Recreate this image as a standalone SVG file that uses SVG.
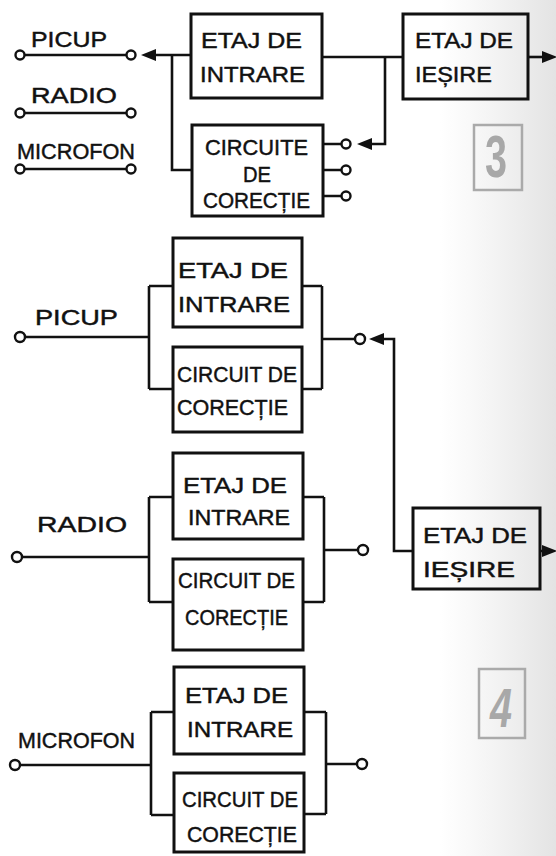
<svg xmlns="http://www.w3.org/2000/svg" width="556" height="856" viewBox="0 0 556 856">
<defs>
<style>
.bx{fill:none;stroke:#111;stroke-width:3}
.ln{fill:none;stroke:#111;stroke-width:2.6}
.pin{fill:#fff;stroke:#111;stroke-width:2.4}
.t{font-family:"Liberation Sans","DejaVu Sans",sans-serif;fill:#111;stroke:#111;stroke-width:0.45}
.lab{font-size:22px}
.bt{font-size:22px}
.num{font-family:"Liberation Sans","DejaVu Sans",sans-serif;font-weight:bold;fill:#a8a8a8}
.frame{fill:none;stroke:#aaa;stroke-width:2.5}
.arr{marker-end:url(#ah)}
</style>
<marker id="ah" markerUnits="userSpaceOnUse" markerWidth="16" markerHeight="12" refX="0" refY="6" orient="auto">
<path d="M0,0 L15,6 L0,12 z" fill="#111"/>
</marker>
<linearGradient id="scan" x1="0" y1="0" x2="1" y2="0">
<stop offset="0" stop-color="#d0d0d0" stop-opacity="0"/>
<stop offset="1" stop-color="#c8c8c8" stop-opacity="0.5"/>
</linearGradient>
</defs>
<rect x="0" y="0" width="556" height="856" fill="#fff"/>
<rect x="440" y="0" width="116" height="856" fill="url(#scan)"/>

<g id="connectors">
<path class="ln arr" d="M191,55 H156"/>
<path class="ln" d="M172,55 V170 H192"/>
<path class="ln" d="M322,57 H403"/>
<path class="ln arr" d="M385,57 V144 H372"/>
<path class="ln" d="M323,144 H341.5 M323,170 H341.5 M323,196 H341.5"/>
<path class="ln arr" d="M528,57 H542"/>
<path class="ln" d="M25,337 H149 M149,286 V389 M149,286 H173 M149,389 H173"/>
<path class="ln" d="M302,286 H322 M302,389 H322 M322,286 V389 M322,339 H355"/>
<path class="ln arr" d="M413,551 H394 V339 H384"/>
<path class="ln" d="M22,557 H149 M149,497 V602 M149,497 H173 M149,602 H173"/>
<path class="ln" d="M303,497 H324 M303,602 H324 M324,497 V602 M324,550 H358"/>
<path class="ln" d="M20,765 H151 M151,712 V815 M151,712 H174 M151,815 H174"/>
<path class="ln" d="M304,712 H326 M304,814 H326 M326,712 V814 M326,764 H357"/>
<path class="ln arr" d="M540,551 H542"/>
</g>

<g id="src-top">
<text class="t lab" x="31" y="47" font-size="21" textLength="76" lengthAdjust="spacingAndGlyphs">PICUP</text>
<path class="ln" d="M24.5,55 H126.5"/>
<circle class="pin" cx="20" cy="55" r="4.5"/>
<circle class="pin" cx="131" cy="55" r="4.5"/>
<text class="t lab" x="31" y="103" textLength="86" lengthAdjust="spacingAndGlyphs">RADIO</text>
<path class="ln" d="M24.5,113 H126.5"/>
<circle class="pin" cx="20" cy="113" r="4.5"/>
<circle class="pin" cx="131" cy="113" r="4.5"/>
<text class="t lab" x="17" y="159" textLength="118" lengthAdjust="spacingAndGlyphs">MICROFON</text>
<path class="ln" d="M24.5,169 H126.5"/>
<circle class="pin" cx="20" cy="169" r="4.5"/>
<circle class="pin" cx="131" cy="169" r="4.5"/>
</g>

<g id="etaj-intrare-top">
<rect class="bx" x="191" y="14" width="131" height="84"/>
<text class="t bt" x="201" y="48" font-size="21" textLength="101" lengthAdjust="spacingAndGlyphs">ETAJ DE</text>
<text class="t bt" x="200" y="82" font-size="21" textLength="105" lengthAdjust="spacingAndGlyphs">INTRARE</text>
</g>

<g id="circuite-top">
<rect class="bx" x="192" y="125" width="131" height="91"/>
<text class="t bt" x="205" y="155" textLength="103" lengthAdjust="spacingAndGlyphs">CIRCUITE</text>
<text class="t bt" x="243" y="182" textLength="28" lengthAdjust="spacingAndGlyphs">DE</text>
<text class="t bt" x="203" y="208" textLength="107" lengthAdjust="spacingAndGlyphs">CORECȚIE</text>
<circle class="pin" cx="346" cy="144" r="4.5"/>
<circle class="pin" cx="346" cy="170" r="4.5"/>
<circle class="pin" cx="346" cy="196" r="4.5"/>
</g>

<g id="etaj-iesire-top">
<rect class="bx" x="403" y="14" width="125" height="85"/>
<text class="t bt" x="415" y="48" font-size="21" textLength="98" lengthAdjust="spacingAndGlyphs">ETAJ DE</text>
<text class="t bt" x="415" y="82" font-size="21" textLength="77" lengthAdjust="spacingAndGlyphs">IEȘIRE</text>
</g>

<g id="fig3">
<rect class="frame" x="474" y="125" width="48" height="65"/>
<text class="num" x="485" y="177" font-size="60" textLength="22" lengthAdjust="spacingAndGlyphs">3</text>
</g>

<g id="picup">
<text class="t lab" x="35" y="325" font-size="23" textLength="83" lengthAdjust="spacingAndGlyphs">PICUP</text>
<circle class="pin" cx="20" cy="337" r="5"/>
<circle class="pin" cx="360" cy="339" r="5"/>
</g>
<g id="picup-etaj">
<rect class="bx" x="173" y="238" width="129" height="89"/>
<text class="t bt" x="178" y="278" textLength="110" lengthAdjust="spacingAndGlyphs">ETAJ DE</text>
<text class="t bt" x="178" y="312" textLength="112" lengthAdjust="spacingAndGlyphs">INTRARE</text>
</g>
<g id="picup-circuit">
<rect class="bx" x="173" y="347" width="129" height="85"/>
<text class="t bt" x="177" y="382" textLength="120" lengthAdjust="spacingAndGlyphs">CIRCUIT DE</text>
<text class="t bt" x="177" y="415" textLength="111" lengthAdjust="spacingAndGlyphs">CORECȚIE</text>
</g>

<g id="radio">
<text class="t lab" x="37" y="532" font-size="23" textLength="90" lengthAdjust="spacingAndGlyphs">RADIO</text>
<circle class="pin" cx="17" cy="557" r="5"/>
<circle class="pin" cx="363" cy="550" r="5"/>
</g>
<g id="radio-etaj">
<rect class="bx" x="173" y="453" width="130" height="86"/>
<text class="t bt" x="183" y="493" textLength="104" lengthAdjust="spacingAndGlyphs">ETAJ DE</text>
<text class="t bt" x="188" y="525" textLength="102" lengthAdjust="spacingAndGlyphs">INTRARE</text>
</g>
<g id="radio-circuit">
<rect class="bx" x="173" y="559" width="130" height="91"/>
<text class="t bt" x="178" y="588" textLength="117" lengthAdjust="spacingAndGlyphs">CIRCUIT DE</text>
<text class="t bt" x="185" y="625" textLength="103" lengthAdjust="spacingAndGlyphs">CORECȚIE</text>
</g>

<g id="microfon">
<text class="t lab" x="18" y="748" font-size="22" textLength="117" lengthAdjust="spacingAndGlyphs">MICROFON</text>
<circle class="pin" cx="15" cy="765" r="5"/>
<circle class="pin" cx="362" cy="764" r="5"/>
</g>
<g id="microfon-etaj">
<rect class="bx" x="174" y="667" width="130" height="87"/>
<text class="t bt" x="185" y="703" textLength="103" lengthAdjust="spacingAndGlyphs">ETAJ DE</text>
<text class="t bt" x="187" y="737" textLength="106" lengthAdjust="spacingAndGlyphs">INTRARE</text>
</g>
<g id="microfon-circuit">
<rect class="bx" x="174" y="773" width="130" height="79"/>
<text class="t bt" x="182" y="807" textLength="116" lengthAdjust="spacingAndGlyphs">CIRCUIT DE</text>
<text class="t bt" x="187" y="842" textLength="110" lengthAdjust="spacingAndGlyphs">CORECȚIE</text>
</g>

<g id="etaj-iesire">
<rect class="bx" x="413" y="508" width="127" height="81"/>
<text class="t bt" x="423" y="543" textLength="104" lengthAdjust="spacingAndGlyphs">ETAJ DE</text>
<text class="t bt" x="423" y="577" textLength="92" lengthAdjust="spacingAndGlyphs">IEȘIRE</text>
</g>

<g id="fig4">
<rect class="frame" x="479" y="669" width="46" height="69"/>
<text class="num" x="490" y="727" font-size="56" font-style="italic" textLength="22" lengthAdjust="spacingAndGlyphs">4</text>
</g>
</svg>
